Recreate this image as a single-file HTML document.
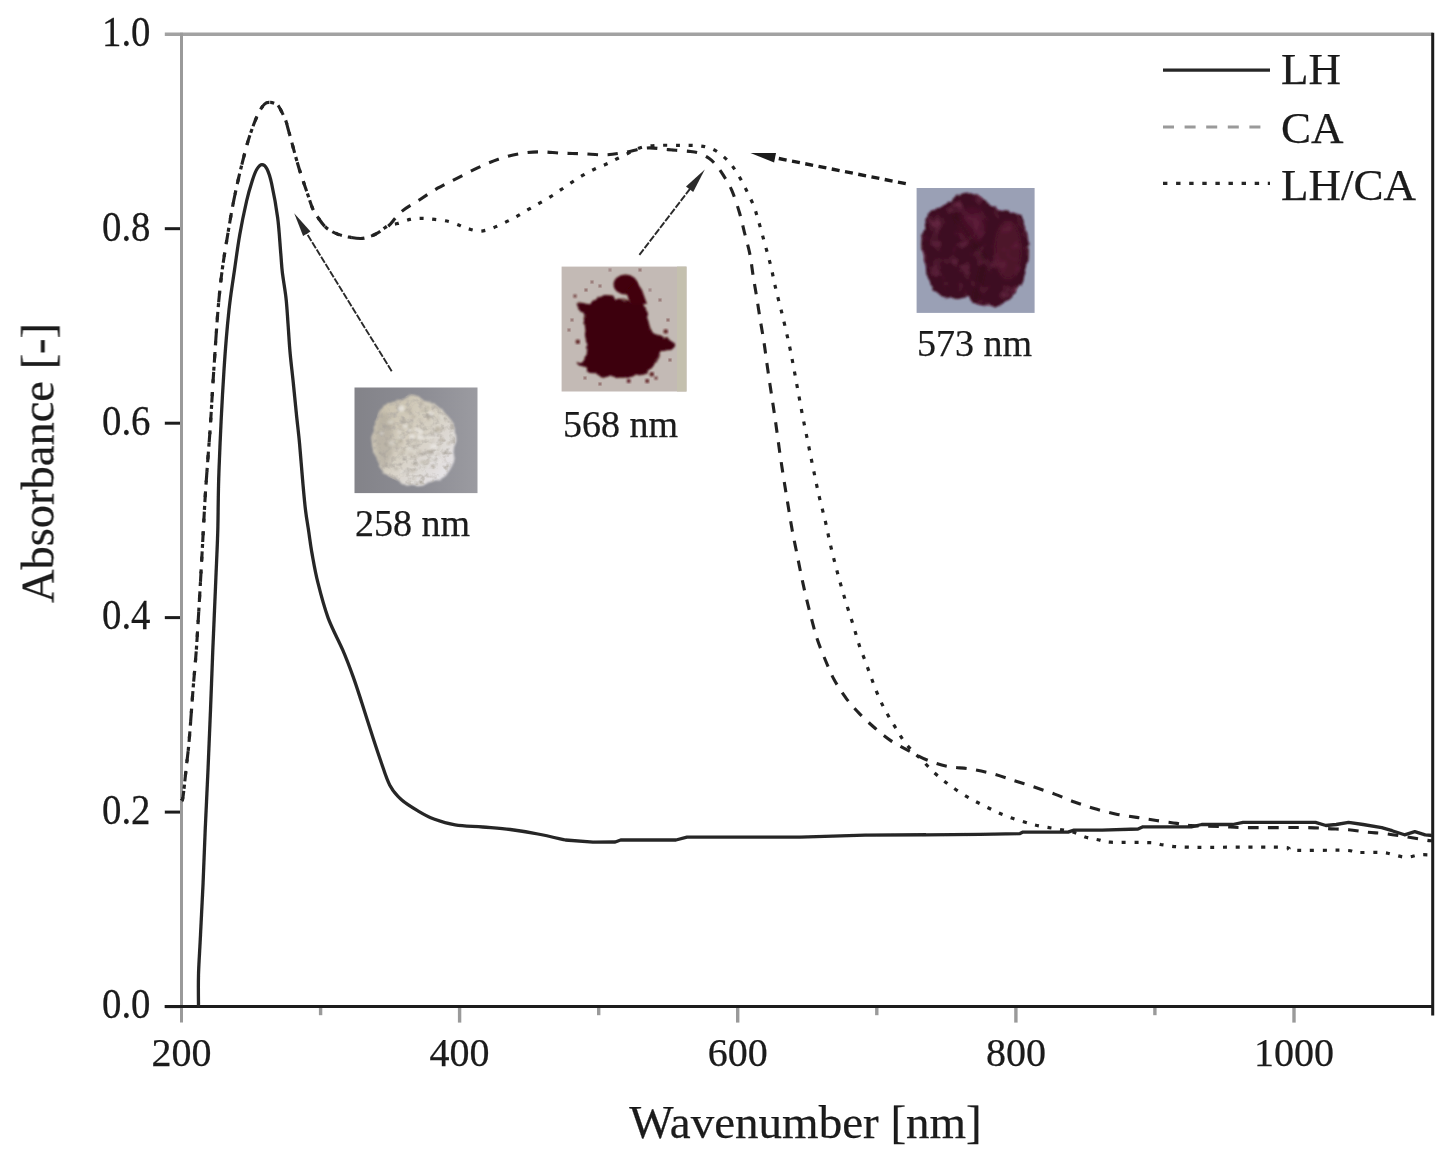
<!DOCTYPE html>
<html><head><meta charset="utf-8"><style>
html,body{margin:0;padding:0;background:#fff;}
svg{display:block;}
text{font-family:"Liberation Serif",serif;stroke:#1a1a1a;stroke-width:0.25px;}
</style></head><body>
<svg width="1450" height="1159" viewBox="0 0 1450 1159">
<defs><filter id="soft" x="0" y="0" width="100%" height="100%" filterUnits="userSpaceOnUse"><feGaussianBlur stdDeviation="0.75"/></filter></defs>
<rect width="1450" height="1159" fill="#fff"/>
<g filter="url(#soft)">
<g stroke="#1c1c1c" stroke-width="3" fill="none">
<line x1="164.8" y1="1006.6" x2="181.5" y2="1006.6"/>
<line x1="164.8" y1="812.1" x2="181.5" y2="812.1"/>
<line x1="164.8" y1="617.6" x2="181.5" y2="617.6"/>
<line x1="164.8" y1="423.2" x2="181.5" y2="423.2"/>
<line x1="164.8" y1="228.7" x2="181.5" y2="228.7"/>
</g>
<g stroke="#9a9a9a" stroke-width="3.4" fill="none">
<line x1="459.6" y1="1006.6" x2="459.6" y2="1022.6"/>
<line x1="737.7" y1="1006.6" x2="737.7" y2="1022.6"/>
<line x1="1015.9" y1="1006.6" x2="1015.9" y2="1022.6"/>
<line x1="1294.0" y1="1006.6" x2="1294.0" y2="1022.6"/>
<line x1="320.6" y1="1006.6" x2="320.6" y2="1015.2"/>
<line x1="598.7" y1="1006.6" x2="598.7" y2="1015.2"/>
<line x1="876.8" y1="1006.6" x2="876.8" y2="1015.2"/>
<line x1="1154.9" y1="1006.6" x2="1154.9" y2="1015.2"/>
</g>
<line x1="164.8" y1="34.2" x2="1433" y2="34.2" stroke="#a2a2a2" stroke-width="3.6"/>
<line x1="181.5" y1="32.7" x2="181.5" y2="1022.6" stroke="#9a9a9a" stroke-width="3"/>
<line x1="164.8" y1="1006.6" x2="1434" y2="1006.6" stroke="#1c1c1c" stroke-width="3"/>
<line x1="1432.7" y1="32.7" x2="1432.7" y2="1015.4" stroke="#1c1c1c" stroke-width="3"/>
<g font-family="Liberation Serif" font-size="40" fill="#1a1a1a">
<text transform="translate(150.5,1018.4) scale(0.97,1.05)" text-anchor="end">0.0</text>
<text transform="translate(150.5,823.9) scale(0.97,1.05)" text-anchor="end">0.2</text>
<text transform="translate(150.5,629.4) scale(0.97,1.05)" text-anchor="end">0.4</text>
<text transform="translate(150.5,435.0) scale(0.97,1.05)" text-anchor="end">0.6</text>
<text transform="translate(150.5,240.5) scale(0.97,1.05)" text-anchor="end">0.8</text>
<text transform="translate(150.5,46.0) scale(0.97,1.05)" text-anchor="end">1.0</text>
<text x="181.5" y="1065.5" text-anchor="middle">200</text>
<text x="459.6" y="1065.5" text-anchor="middle">400</text>
<text x="737.7" y="1065.5" text-anchor="middle">600</text>
<text x="1015.9" y="1065.5" text-anchor="middle">800</text>
<text x="1294.0" y="1065.5" text-anchor="middle">1000</text>
</g>
<text x="805.5" y="1137.6" text-anchor="middle" font-family="Liberation Serif" font-size="47" fill="#1a1a1a">Wavenumber [nm]</text>
<text transform="translate(53.5,463) rotate(-90)" text-anchor="middle" font-family="Liberation Serif" font-size="46.5" fill="#1a1a1a">Absorbance [-]</text>
<defs>
<filter id="bl" x="-20%" y="-20%" width="140%" height="140%"><feGaussianBlur stdDeviation="2.2"/></filter>
<filter id="bl2" x="-20%" y="-20%" width="140%" height="140%"><feGaussianBlur stdDeviation="1.2"/></filter>
<filter id="rough" x="-20%" y="-20%" width="140%" height="140%"><feTurbulence type="fractalNoise" baseFrequency="0.12" numOctaves="2" seed="3" result="n"/><feDisplacementMap in="SourceGraphic" in2="n" scale="7" xChannelSelector="R" yChannelSelector="G"/><feGaussianBlur stdDeviation="1.0"/></filter>
<filter id="rough2" x="-20%" y="-20%" width="140%" height="140%"><feTurbulence type="fractalNoise" baseFrequency="0.09" numOctaves="2" seed="7" result="n"/><feDisplacementMap in="SourceGraphic" in2="n" scale="6" xChannelSelector="R" yChannelSelector="G"/><feGaussianBlur stdDeviation="1.3"/></filter>
<linearGradient id="pw" x1="0.1" y1="0.1" x2="0.9" y2="0.9"><stop offset="0" stop-color="#c9c1ad"/><stop offset="0.5" stop-color="#d6d0c3"/><stop offset="1" stop-color="#e6e4e8"/></linearGradient>
<linearGradient id="g1" x1="0" y1="0" x2="0" y2="1"><stop offset="0" stop-color="#86858b"/><stop offset="1" stop-color="#8e8e96"/></linearGradient>
<linearGradient id="g2" x1="0" y1="0" x2="1" y2="1"><stop offset="0" stop-color="#bdb6b3"/><stop offset="1" stop-color="#c6bfba"/></linearGradient>
<linearGradient id="g3" x1="0" y1="0" x2="1" y2="1"><stop offset="0" stop-color="#9294a8"/><stop offset="1" stop-color="#a3a5b8"/></linearGradient>
</defs>
<linearGradient id="g1h" x1="0" y1="0" x2="1" y2="0"><stop offset="0" stop-color="#838389"/><stop offset="0.55" stop-color="#8d8d94"/><stop offset="1" stop-color="#9b9ba1"/></linearGradient>
<rect x="354.5" y="387.5" width="123" height="105.6" fill="url(#g1h)"/>
<path filter="url(#rough2)" fill="url(#pw)" d="M411.0,394.0 C413.3,393.9 415.5,395.8 418.0,397.0 C420.5,398.2 422.9,399.5 426.0,401.0 C429.1,402.5 431.9,402.5 436.3,405.8 C440.7,409.1 449.1,415.4 452.2,420.7 C455.3,426.0 454.9,431.7 455.2,437.6 C455.5,443.5 455.0,450.2 454.0,456.0 C453.0,461.8 452.5,468.0 449.2,472.3 C445.9,476.6 439.8,479.9 434.0,482.0 C428.2,484.1 421.0,485.5 414.5,485.2 C408.0,484.9 400.8,483.0 395.0,480.0 C389.2,477.0 383.3,472.3 379.8,467.3 C376.3,462.3 375.2,455.8 374.0,450.0 C372.8,444.2 371.8,439.1 372.8,432.6 C373.8,426.1 376.4,415.7 379.8,410.8 C383.2,405.9 389.0,405.2 393.0,403.0 C397.0,400.8 401.0,399.0 404.0,397.5 C407.0,396.0 408.7,394.1 411.0,394.0 Z"/>
<clipPath id="cp1"><path d="M411.0,394.0 C413.3,393.9 415.5,395.8 418.0,397.0 C420.5,398.2 422.9,399.5 426.0,401.0 C429.1,402.5 431.9,402.5 436.3,405.8 C440.7,409.1 449.1,415.4 452.2,420.7 C455.3,426.0 454.9,431.7 455.2,437.6 C455.5,443.5 455.0,450.2 454.0,456.0 C453.0,461.8 452.5,468.0 449.2,472.3 C445.9,476.6 439.8,479.9 434.0,482.0 C428.2,484.1 421.0,485.5 414.5,485.2 C408.0,484.9 400.8,483.0 395.0,480.0 C389.2,477.0 383.3,472.3 379.8,467.3 C376.3,462.3 375.2,455.8 374.0,450.0 C372.8,444.2 371.8,439.1 372.8,432.6 C373.8,426.1 376.4,415.7 379.8,410.8 C383.2,405.9 389.0,405.2 393.0,403.0 C397.0,400.8 401.0,399.0 404.0,397.5 C407.0,396.0 408.7,394.1 411.0,394.0 Z"/></clipPath>
<filter id="tex1" x="0" y="0" width="100%" height="100%"><feTurbulence type="fractalNoise" baseFrequency="0.16" numOctaves="3" seed="11"/><feColorMatrix type="matrix" values="0 0 0 0 0.46  0 0 0 0 0.43  0 0 0 0 0.39  2.4 0 0 0 -1.08"/><feGaussianBlur stdDeviation="0.6"/></filter>
<rect x="365" y="390" width="95" height="100" filter="url(#tex1)" clip-path="url(#cp1)"/>
<ellipse filter="url(#bl)" cx="384" cy="440" rx="9" ry="28" fill="#a29c92" opacity="0.45" clip-path="url(#cp1)"/>
<ellipse filter="url(#bl2)" cx="424.1" cy="462.3" rx="3.2" ry="2.2" fill="#a9a293" opacity="0.32"/>
<ellipse filter="url(#bl2)" cx="405.5" cy="472.9" rx="2.6" ry="1.9" fill="#9f998f" opacity="0.25"/>
<ellipse filter="url(#bl2)" cx="394.0" cy="423.5" rx="1.8" ry="2.2" fill="#9f998f" opacity="0.29"/>
<ellipse filter="url(#bl2)" cx="423.7" cy="410.6" rx="3.4" ry="1.2" fill="#a9a293" opacity="0.48"/>
<ellipse filter="url(#bl2)" cx="390.3" cy="426.3" rx="2.6" ry="2.1" fill="#b3ab9c" opacity="0.31"/>
<ellipse filter="url(#bl2)" cx="400.1" cy="430.3" rx="3.4" ry="1.5" fill="#b3ab9c" opacity="0.35"/>
<ellipse filter="url(#bl2)" cx="438.5" cy="449.2" rx="1.6" ry="1.7" fill="#bdb6a8" opacity="0.34"/>
<ellipse filter="url(#bl2)" cx="429.5" cy="415.5" rx="2.9" ry="1.3" fill="#9f998f" opacity="0.54"/>
<ellipse filter="url(#bl2)" cx="436.3" cy="430.8" rx="2.4" ry="2.1" fill="#a9a293" opacity="0.44"/>
<ellipse filter="url(#bl2)" cx="396.2" cy="468.8" rx="2.2" ry="1.7" fill="#9f998f" opacity="0.41"/>
<ellipse filter="url(#bl2)" cx="433.4" cy="467.0" rx="1.6" ry="2.4" fill="#bdb6a8" opacity="0.28"/>
<ellipse filter="url(#bl2)" cx="403.2" cy="451.3" rx="2.2" ry="2.4" fill="#b3ab9c" opacity="0.41"/>
<ellipse filter="url(#bl2)" cx="401.1" cy="426.6" rx="3.1" ry="2.0" fill="#b3ab9c" opacity="0.47"/>
<ellipse filter="url(#bl2)" cx="400.9" cy="440.6" rx="1.7" ry="2.0" fill="#a9a293" opacity="0.53"/>
<ellipse filter="url(#bl2)" cx="403.4" cy="421.0" rx="1.8" ry="2.5" fill="#9f998f" opacity="0.44"/>
<ellipse filter="url(#bl2)" cx="437.3" cy="428.1" rx="1.8" ry="2.2" fill="#b3ab9c" opacity="0.53"/>
<ellipse filter="url(#bl2)" cx="424.6" cy="466.2" rx="1.8" ry="1.7" fill="#a9a293" opacity="0.27"/>
<ellipse filter="url(#bl2)" cx="409.1" cy="411.9" rx="3.5" ry="1.8" fill="#b3ab9c" opacity="0.40"/>
<ellipse filter="url(#bl2)" cx="432.0" cy="440.2" rx="2.4" ry="2.4" fill="#bdb6a8" opacity="0.28"/>
<ellipse filter="url(#bl2)" cx="438.8" cy="444.7" rx="2.8" ry="1.8" fill="#b3ab9c" opacity="0.35"/>
<ellipse filter="url(#bl2)" cx="384.6" cy="422.9" rx="1.6" ry="2.2" fill="#bdb6a8" opacity="0.36"/>
<ellipse filter="url(#bl2)" cx="421.5" cy="402.9" rx="2.2" ry="2.1" fill="#bdb6a8" opacity="0.33"/>
<ellipse filter="url(#bl2)" cx="413.9" cy="464.7" rx="3.4" ry="1.6" fill="#bdb6a8" opacity="0.30"/>
<ellipse filter="url(#bl2)" cx="441.0" cy="439.8" rx="2.2" ry="1.6" fill="#bdb6a8" opacity="0.34"/>
<ellipse filter="url(#bl2)" cx="415.0" cy="456.6" rx="2.2" ry="2.0" fill="#bdb6a8" opacity="0.47"/>
<ellipse filter="url(#bl2)" cx="439.3" cy="429.4" rx="3.2" ry="2.1" fill="#b3ab9c" opacity="0.54"/>
<ellipse filter="url(#bl2)" cx="448.8" cy="443.5" rx="1.9" ry="1.7" fill="#b3ab9c" opacity="0.51"/>
<ellipse filter="url(#bl2)" cx="398.9" cy="406.6" rx="1.8" ry="2.2" fill="#9f998f" opacity="0.42"/>
<ellipse filter="url(#bl2)" cx="427.3" cy="435.3" rx="2.9" ry="1.2" fill="#bdb6a8" opacity="0.30"/>
<ellipse filter="url(#bl2)" cx="410.6" cy="454.6" rx="3.0" ry="1.4" fill="#b3ab9c" opacity="0.47"/>
<ellipse filter="url(#bl2)" cx="413.7" cy="446.1" rx="2.4" ry="1.7" fill="#9f998f" opacity="0.43"/>
<ellipse filter="url(#bl2)" cx="421.7" cy="420.0" rx="1.5" ry="1.7" fill="#bdb6a8" opacity="0.33"/>
<ellipse filter="url(#bl2)" cx="408.3" cy="409.7" rx="3.4" ry="1.9" fill="#bdb6a8" opacity="0.34"/>
<ellipse filter="url(#bl2)" cx="399.9" cy="443.1" rx="3.4" ry="2.3" fill="#bdb6a8" opacity="0.38"/>
<ellipse filter="url(#bl2)" cx="438.2" cy="454.0" rx="2.4" ry="1.4" fill="#bdb6a8" opacity="0.36"/>
<ellipse filter="url(#bl2)" cx="413.3" cy="416.7" rx="2.7" ry="1.7" fill="#b3ab9c" opacity="0.52"/>
<ellipse filter="url(#bl2)" cx="419.9" cy="451.7" rx="2.2" ry="2.3" fill="#b3ab9c" opacity="0.42"/>
<ellipse filter="url(#bl2)" cx="414.5" cy="440.3" rx="2.3" ry="2.3" fill="#9f998f" opacity="0.30"/>
<ellipse filter="url(#bl2)" cx="422.0" cy="462.2" rx="2.5" ry="1.7" fill="#bdb6a8" opacity="0.35"/>
<ellipse filter="url(#bl2)" cx="399.2" cy="440.1" rx="2.8" ry="2.4" fill="#a9a293" opacity="0.32"/>
<ellipse filter="url(#bl2)" cx="407.0" cy="440.3" rx="2.0" ry="1.8" fill="#bdb6a8" opacity="0.26"/>
<ellipse filter="url(#bl2)" cx="414.3" cy="470.9" rx="2.1" ry="2.0" fill="#bdb6a8" opacity="0.39"/>
<ellipse filter="url(#bl2)" cx="425.7" cy="450.7" rx="1.5" ry="1.4" fill="#a9a293" opacity="0.33"/>
<ellipse filter="url(#bl2)" cx="430.4" cy="451.5" rx="2.4" ry="1.7" fill="#a9a293" opacity="0.47"/>
<ellipse filter="url(#bl2)" cx="421.7" cy="403.1" rx="2.6" ry="2.1" fill="#bdb6a8" opacity="0.28"/>
<ellipse filter="url(#bl2)" cx="428.9" cy="416.1" rx="3.1" ry="1.8" fill="#9f998f" opacity="0.42"/>
<ellipse filter="url(#bl2)" cx="430.4" cy="453.1" rx="3.2" ry="2.3" fill="#9f998f" opacity="0.39"/>
<ellipse filter="url(#bl2)" cx="428.5" cy="460.4" rx="2.4" ry="2.2" fill="#bdb6a8" opacity="0.34"/>
<ellipse filter="url(#bl2)" cx="421.1" cy="454.5" rx="3.3" ry="1.4" fill="#9f998f" opacity="0.39"/>
<ellipse filter="url(#bl2)" cx="418.6" cy="441.8" rx="2.6" ry="1.8" fill="#bdb6a8" opacity="0.41"/>
<ellipse filter="url(#bl2)" cx="397.8" cy="407.2" rx="2.8" ry="1.2" fill="#a9a293" opacity="0.47"/>
<ellipse filter="url(#bl2)" cx="440.3" cy="418.4" rx="2.9" ry="1.4" fill="#a9a293" opacity="0.34"/>
<ellipse filter="url(#bl2)" cx="423.2" cy="434.8" rx="1.6" ry="1.5" fill="#b3ab9c" opacity="0.42"/>
<ellipse filter="url(#bl2)" cx="426.9" cy="462.6" rx="1.6" ry="1.9" fill="#bdb6a8" opacity="0.47"/>
<ellipse filter="url(#bl2)" cx="409.9" cy="426.4" rx="2.5" ry="2.4" fill="#9f998f" opacity="0.36"/>
<ellipse filter="url(#bl2)" cx="389.2" cy="453.0" rx="3.3" ry="1.9" fill="#bdb6a8" opacity="0.44"/>
<ellipse filter="url(#bl2)" cx="397.5" cy="446.3" rx="3.2" ry="1.6" fill="#bdb6a8" opacity="0.54"/>
<ellipse filter="url(#bl2)" cx="411.5" cy="432.7" rx="2.9" ry="2.1" fill="#b3ab9c" opacity="0.28"/>
<ellipse filter="url(#bl2)" cx="427.4" cy="407.7" rx="2.5" ry="1.8" fill="#a9a293" opacity="0.37"/>
<ellipse filter="url(#bl2)" cx="386.0" cy="444.6" rx="1.6" ry="1.4" fill="#9f998f" opacity="0.54"/>
<ellipse filter="url(#bl2)" cx="428.4" cy="418.7" rx="1.7" ry="2.4" fill="#a9a293" opacity="0.40"/>
<ellipse filter="url(#bl2)" cx="393.7" cy="458.9" rx="2.2" ry="1.5" fill="#9f998f" opacity="0.35"/>
<ellipse filter="url(#bl2)" cx="423.4" cy="429.3" rx="2.3" ry="2.1" fill="#9f998f" opacity="0.36"/>
<ellipse filter="url(#bl2)" cx="399.9" cy="453.0" rx="2.5" ry="2.0" fill="#bdb6a8" opacity="0.42"/>
<ellipse filter="url(#bl2)" cx="432.8" cy="433.2" rx="1.6" ry="1.4" fill="#a9a293" opacity="0.31"/>
<ellipse filter="url(#bl2)" cx="414.3" cy="478.7" rx="1.5" ry="1.8" fill="#bdb6a8" opacity="0.52"/>
<ellipse filter="url(#bl2)" cx="423.8" cy="436.0" rx="2.4" ry="1.4" fill="#9f998f" opacity="0.45"/>
<ellipse filter="url(#bl2)" cx="442.3" cy="439.5" rx="1.7" ry="2.3" fill="#bdb6a8" opacity="0.48"/>
<ellipse filter="url(#bl2)" cx="444.3" cy="428.9" rx="2.1" ry="1.3" fill="#bdb6a8" opacity="0.26"/>
<ellipse filter="url(#bl2)" cx="411.8" cy="471.3" rx="1.7" ry="2.1" fill="#b3ab9c" opacity="0.34"/>
<ellipse filter="url(#bl2)" cx="427.9" cy="461.3" rx="2.3" ry="1.8" fill="#f0eeea" opacity="0.31"/>
<ellipse filter="url(#bl2)" cx="405.0" cy="426.2" rx="2.9" ry="1.9" fill="#f0eeea" opacity="0.52"/>
<ellipse filter="url(#bl2)" cx="431.1" cy="413.7" rx="2.5" ry="2.5" fill="#f0eeea" opacity="0.58"/>
<ellipse filter="url(#bl2)" cx="425.8" cy="436.2" rx="4.0" ry="1.5" fill="#f0eeea" opacity="0.32"/>
<ellipse filter="url(#bl2)" cx="435.7" cy="434.5" rx="2.1" ry="2.3" fill="#f0eeea" opacity="0.60"/>
<ellipse filter="url(#bl2)" cx="416.4" cy="429.4" rx="2.2" ry="1.6" fill="#f0eeea" opacity="0.57"/>
<ellipse filter="url(#bl2)" cx="381.7" cy="433.4" rx="2.1" ry="1.9" fill="#f0eeea" opacity="0.42"/>
<ellipse filter="url(#bl2)" cx="391.3" cy="442.7" rx="2.8" ry="2.3" fill="#f0eeea" opacity="0.33"/>
<ellipse filter="url(#bl2)" cx="401.2" cy="409.1" rx="3.1" ry="2.9" fill="#f0eeea" opacity="0.48"/>
<ellipse filter="url(#bl2)" cx="441.4" cy="418.0" rx="2.0" ry="2.3" fill="#f0eeea" opacity="0.45"/>
<ellipse filter="url(#bl2)" cx="420.3" cy="431.6" rx="3.3" ry="2.6" fill="#f0eeea" opacity="0.57"/>
<ellipse filter="url(#bl2)" cx="400.8" cy="437.7" rx="3.7" ry="1.8" fill="#f0eeea" opacity="0.33"/>
<ellipse filter="url(#bl2)" cx="401.1" cy="407.4" rx="3.5" ry="2.7" fill="#f0eeea" opacity="0.39"/>
<ellipse filter="url(#bl2)" cx="409.7" cy="448.5" rx="2.5" ry="1.6" fill="#f0eeea" opacity="0.51"/>
<ellipse filter="url(#bl2)" cx="399.2" cy="431.4" rx="2.2" ry="2.1" fill="#f0eeea" opacity="0.39"/>
<ellipse filter="url(#bl2)" cx="433.7" cy="446.7" rx="3.8" ry="2.5" fill="#f0eeea" opacity="0.53"/>
<ellipse filter="url(#bl2)" cx="420.5" cy="437.1" rx="3.6" ry="2.5" fill="#f0eeea" opacity="0.59"/>
<ellipse filter="url(#bl2)" cx="431.9" cy="458.9" rx="2.5" ry="2.7" fill="#f0eeea" opacity="0.41"/>
<ellipse filter="url(#bl2)" cx="390.5" cy="422.1" rx="3.4" ry="1.9" fill="#f0eeea" opacity="0.32"/>
<ellipse filter="url(#bl2)" cx="434.5" cy="446.8" rx="2.1" ry="1.6" fill="#f0eeea" opacity="0.34"/>
<ellipse filter="url(#bl2)" cx="404.4" cy="472.2" rx="3.9" ry="2.4" fill="#f0eeea" opacity="0.37"/>
<ellipse filter="url(#bl2)" cx="409.7" cy="430.4" rx="2.7" ry="1.5" fill="#f0eeea" opacity="0.48"/>
<ellipse filter="url(#bl2)" cx="439.2" cy="461.1" rx="2.2" ry="2.3" fill="#f0eeea" opacity="0.35"/>
<ellipse filter="url(#bl2)" cx="430.5" cy="437.5" rx="3.9" ry="2.7" fill="#f0eeea" opacity="0.34"/>
<ellipse filter="url(#bl2)" cx="412.1" cy="436.5" rx="2.9" ry="2.7" fill="#f0eeea" opacity="0.58"/>
<rect x="561.6" y="266.6" width="124.9" height="124.9" fill="#c3bab5"/>
<rect x="677" y="266.6" width="9.5" height="124.9" fill="#c4c0ae"/>
<path filter="url(#rough)" fill="#3c0509" d="M603.2,296.7 C605.9,295.9 609.0,295.0 611.3,295.5 C613.6,296.0 613.8,298.8 617.1,299.5 C620.4,300.2 626.8,299.0 631.0,299.5 C635.2,300.0 640.1,300.6 642.6,302.5 C645.1,304.4 645.0,307.3 646.0,310.6 C647.0,313.9 647.1,318.6 648.3,322.1 C649.5,325.6 650.9,328.9 653.0,331.4 C655.1,333.9 658.0,335.7 661.1,337.2 C664.2,338.7 669.2,339.3 671.5,340.6 C673.8,341.9 675.5,343.6 674.9,345.2 C674.3,346.8 670.3,348.7 668.0,349.9 C665.7,351.1 663.0,350.3 661.1,352.2 C659.2,354.1 658.3,358.5 656.4,361.4 C654.5,364.3 652.2,367.2 649.5,369.5 C646.8,371.8 644.1,373.9 640.2,375.3 C636.4,376.7 630.6,377.2 626.4,377.6 C622.2,378.0 618.7,377.8 614.8,377.6 C610.9,377.4 607.1,377.3 603.2,376.5 C599.4,375.7 595.2,374.7 591.7,373.0 C588.2,371.3 584.7,367.8 582.4,366.1 C580.1,364.4 577.2,364.0 577.8,362.6 C578.4,361.2 584.3,361.3 585.9,358.0 C587.5,354.7 587.3,348.1 587.1,342.9 C586.9,337.7 585.3,331.7 584.7,326.7 C584.1,321.7 584.9,316.8 583.6,312.9 C582.3,309.0 576.1,305.0 576.7,303.6 C577.3,302.2 584.0,305.4 587.1,304.8 C590.2,304.2 592.5,301.6 595.2,300.2 C597.9,298.8 600.5,297.5 603.2,296.7 Z"/>
<ellipse filter="url(#bl2)" fill="#43060c" cx="625.5" cy="284.5" rx="12" ry="10"/>
<path filter="url(#bl2)" fill="#43060c" d="M626,291 L636,281 L642,290 L647,304 L630,304 Z"/>
<circle filter="url(#bl2)" cx="577.8" cy="341.8" r="2.2" fill="#5a1a1e"/>
<circle filter="url(#bl2)" cx="628.7" cy="381.0" r="2.0" fill="#5a1a1e"/>
<circle filter="url(#bl2)" cx="647.2" cy="381.0" r="2.0" fill="#5a1a1e"/>
<circle filter="url(#bl2)" cx="651.8" cy="374.2" r="2.2" fill="#5a1a1e"/>
<circle filter="url(#bl2)" cx="665.7" cy="331.4" r="2.2" fill="#5a1a1e"/>
<circle filter="url(#bl2)" cx="586.0" cy="290.0" r="1.3" fill="#5a1a1e"/>
<circle filter="url(#bl2)" cx="592.0" cy="282.0" r="1.2" fill="#5a1a1e"/>
<circle filter="url(#bl2)" cx="600.0" cy="286.0" r="1.2" fill="#5a1a1e"/>
<circle filter="url(#bl2)" cx="572.0" cy="320.0" r="1.2" fill="#5a1a1e"/>
<circle filter="url(#bl2)" cx="640.0" cy="270.0" r="1.2" fill="#5a1a1e"/>
<circle filter="url(#bl2)" cx="575.0" cy="296.0" r="1.5" fill="#5a1a1e"/>
<circle filter="url(#bl2)" cx="569.0" cy="330.0" r="1.2" fill="#5a1a1e"/>
<circle filter="url(#bl2)" cx="660.0" cy="300.0" r="1.2" fill="#5a1a1e"/>
<circle filter="url(#bl2)" cx="668.0" cy="320.0" r="1.3" fill="#5a1a1e"/>
<circle filter="url(#bl2)" cx="656.0" cy="378.0" r="1.5" fill="#5a1a1e"/>
<circle filter="url(#bl2)" cx="600.0" cy="384.0" r="1.3" fill="#5a1a1e"/>
<circle filter="url(#bl2)" cx="585.0" cy="378.0" r="1.2" fill="#5a1a1e"/>
<circle filter="url(#bl2)" cx="670.0" cy="360.0" r="1.3" fill="#5a1a1e"/>
<circle filter="url(#bl2)" cx="610.0" cy="270.0" r="1.1" fill="#5a1a1e"/>
<circle filter="url(#bl2)" cx="650.0" cy="290.0" r="1.1" fill="#5a1a1e"/>
<rect x="916.6" y="188" width="118" height="124.9" fill="#9aa0b5"/>
<path filter="url(#rough)" fill="#3e0e23" d="M958.3,195.6 C961.9,194.3 968.2,193.1 972.1,193.3 C976.0,193.5 978.3,194.8 981.4,196.7 C984.5,198.6 987.5,202.7 990.6,204.8 C993.7,206.9 996.0,208.2 999.9,209.4 C1003.8,210.6 1009.9,209.7 1013.8,211.8 C1017.6,213.9 1020.7,218.2 1023.0,222.2 C1025.3,226.2 1026.6,230.8 1027.6,236.0 C1028.6,241.2 1028.8,248.6 1028.8,253.4 C1028.8,258.2 1028.8,260.2 1027.6,265.0 C1026.4,269.8 1024.2,277.5 1021.9,282.3 C1019.6,287.1 1016.7,290.1 1013.8,293.8 C1010.9,297.5 1008.9,302.2 1004.5,304.3 C1000.1,306.4 992.4,306.8 987.2,306.6 C982.0,306.4 976.6,304.8 973.3,303.1 C970.0,301.4 970.4,297.0 967.5,296.2 C964.6,295.4 960.3,298.5 955.9,298.5 C951.5,298.5 944.9,297.9 940.9,296.2 C936.9,294.5 934.0,292.4 931.7,288.1 C929.4,283.9 928.7,277.4 927.0,270.7 C925.3,263.9 921.9,254.3 921.3,247.6 C920.7,240.9 922.1,236.1 923.6,230.3 C925.1,224.5 927.6,216.8 930.5,212.9 C933.4,209.0 937.6,209.0 940.9,207.1 C944.2,205.2 947.3,203.2 950.2,201.3 C953.1,199.4 954.6,196.9 958.3,195.6 Z"/>
<clipPath id="cp3"><path d="M958.3,195.6 C961.9,194.3 968.2,193.1 972.1,193.3 C976.0,193.5 978.3,194.8 981.4,196.7 C984.5,198.6 987.5,202.7 990.6,204.8 C993.7,206.9 996.0,208.2 999.9,209.4 C1003.8,210.6 1009.9,209.7 1013.8,211.8 C1017.6,213.9 1020.7,218.2 1023.0,222.2 C1025.3,226.2 1026.6,230.8 1027.6,236.0 C1028.6,241.2 1028.8,248.6 1028.8,253.4 C1028.8,258.2 1028.8,260.2 1027.6,265.0 C1026.4,269.8 1024.2,277.5 1021.9,282.3 C1019.6,287.1 1016.7,290.1 1013.8,293.8 C1010.9,297.5 1008.9,302.2 1004.5,304.3 C1000.1,306.4 992.4,306.8 987.2,306.6 C982.0,306.4 976.6,304.8 973.3,303.1 C970.0,301.4 970.4,297.0 967.5,296.2 C964.6,295.4 960.3,298.5 955.9,298.5 C951.5,298.5 944.9,297.9 940.9,296.2 C936.9,294.5 934.0,292.4 931.7,288.1 C929.4,283.9 928.7,277.4 927.0,270.7 C925.3,263.9 921.9,254.3 921.3,247.6 C920.7,240.9 922.1,236.1 923.6,230.3 C925.1,224.5 927.6,216.8 930.5,212.9 C933.4,209.0 937.6,209.0 940.9,207.1 C944.2,205.2 947.3,203.2 950.2,201.3 C953.1,199.4 954.6,196.9 958.3,195.6 Z"/></clipPath>
<filter id="tex3" x="0" y="0" width="100%" height="100%"><feTurbulence type="fractalNoise" baseFrequency="0.07" numOctaves="3" seed="4"/><feColorMatrix type="matrix" values="0 0 0 0 0.36  0 0 0 0 0.08  0 0 0 0 0.17  1.1 0 0 0 -0.55"/><feGaussianBlur stdDeviation="1"/></filter>
<rect x="915" y="188" width="120" height="125" filter="url(#tex3)" clip-path="url(#cp3)"/>
<ellipse filter="url(#bl)" cx="1008" cy="250" rx="14" ry="30" fill="#5e1a36" opacity="0.5"/>
<ellipse filter="url(#bl)" cx="972" cy="225" rx="14" ry="18" fill="#5a1834" opacity="0.45"/>
<path filter="url(#bl)" d="M955,215 L985,260 L975,300" stroke="#2e0818" stroke-width="4" fill="none" opacity="0.5"/>
<g font-family="Liberation Serif" font-size="38" fill="#1a1a1a">
<text x="355" y="536.2">258 nm</text>
<text x="563" y="437.3">568 nm</text>
<text x="917" y="356.4">573 nm</text>
</g>
<path d="M198.5,1006.6 C198.5,1001.3 198.2,986.9 198.5,975.0 C198.8,963.1 199.8,950.0 200.5,935.0 C201.2,920.0 202.2,902.5 203.0,885.0 C203.8,867.5 204.4,849.2 205.2,830.0 C206.0,810.8 207.1,790.0 208.0,770.0 C208.9,750.0 209.7,730.0 210.5,710.0 C211.3,690.0 211.9,671.7 212.8,650.0 C213.7,628.3 215.0,600.0 215.8,580.0 C216.6,560.0 217.3,548.3 217.8,530.0 C218.3,511.7 218.0,496.7 219.0,470.0 C220.0,443.3 222.3,396.7 224.0,370.0 C225.7,343.3 227.2,326.7 229.0,310.0 C230.8,293.3 232.7,282.5 234.5,270.0 C236.3,257.5 237.7,246.5 239.7,235.0 C241.7,223.5 244.5,210.2 246.6,201.0 C248.7,191.8 250.8,185.3 252.5,180.0 C254.2,174.7 255.4,171.6 257.0,169.0 C258.6,166.4 260.3,164.6 262.0,164.6 C263.7,164.6 265.4,165.8 267.0,169.0 C268.6,172.2 269.8,175.3 271.6,183.5 C273.4,191.7 276.2,206.5 277.7,218.0 C279.2,229.5 279.9,243.6 280.7,252.6 C281.5,261.6 281.4,264.4 282.3,272.0 C283.2,279.6 285.0,289.2 286.0,298.0 C287.0,306.8 287.4,315.7 288.1,325.0 C288.8,334.3 289.3,344.3 290.2,354.0 C291.1,363.7 292.3,373.0 293.3,383.0 C294.3,393.0 295.4,404.0 296.4,414.0 C297.4,424.0 298.5,432.0 299.5,443.0 C300.5,454.0 301.6,468.8 302.6,480.0 C303.6,491.2 304.5,501.7 305.5,510.0 C306.5,518.3 307.4,522.8 308.5,530.0 C309.6,537.2 310.4,544.6 312.0,553.4 C313.6,562.2 315.2,572.0 317.9,582.7 C320.6,593.5 324.0,606.6 328.1,617.9 C332.2,629.1 338.6,640.4 342.8,650.2 C347.0,660.0 349.9,667.8 353.1,676.6 C356.3,685.4 358.7,693.2 361.9,703.0 C365.1,712.8 369.0,725.5 372.2,735.3 C375.4,745.1 378.1,753.4 381.0,761.7 C383.9,770.0 386.4,778.9 389.8,785.2 C393.2,791.6 396.6,795.4 401.5,799.8 C406.4,804.2 413.7,808.4 419.1,811.6 C424.5,814.8 427.9,816.8 433.9,819.0 C439.9,821.2 447.0,823.5 455.2,824.8 C463.4,826.1 473.6,826.2 482.8,827.0 C492.0,827.8 501.1,828.3 510.3,829.5 C519.5,830.7 528.7,832.2 537.9,834.0 C547.1,835.8 560.9,839.0 565.5,840.0 L565.5,840.0 L593.1,842.2 L615.2,842.0 L620.7,840.0 L675.9,840.0 L687.0,837.2 L800.0,837.2 L865.0,835.2 L980.0,834.4 L1020.0,833.6 L1023.0,832.1 L1068.0,832.1 L1074.0,830.1 L1101.7,830.1 L1138.0,829.0 L1143.0,826.8 L1191.4,826.8 L1201.7,824.5 L1232.8,824.5 L1243.1,822.4 L1315.5,822.4 L1325.9,825.5 L1336.2,824.5 L1348.6,822.4 L1363.1,824.5 L1381.7,827.6 L1392.1,830.7 L1404.5,834.8 L1414.8,831.7 L1425.2,834.8 L1432.4,835.5" fill="none" stroke="#262626" stroke-width="3.3" stroke-linejoin="round"/>
<path d="M181.5,800.5 C181.8,799.9 182.2,802.4 183.0,797.0 C183.8,791.6 185.2,777.5 186.2,768.0 C187.2,758.5 188.1,753.0 189.2,740.0 C190.3,727.0 191.7,706.7 193.0,690.0 C194.3,673.3 195.6,661.7 197.0,640.0 C198.4,618.3 200.4,583.3 201.7,560.0 C203.0,536.7 204.0,516.7 205.0,500.0 C206.0,483.3 206.9,472.5 207.8,460.0 C208.7,447.5 209.4,440.0 210.4,425.0 C211.4,410.0 212.5,389.2 213.8,370.0 C215.1,350.8 216.6,326.7 218.0,310.0 C219.4,293.3 220.6,282.4 222.2,270.0 C223.8,257.6 225.7,246.8 227.6,235.3 C229.5,223.8 231.4,212.3 233.7,200.8 C236.0,189.3 238.8,176.8 241.4,166.3 C244.0,155.8 246.3,146.6 249.0,138.0 C251.7,129.4 255.2,120.2 257.8,114.5 C260.4,108.8 262.7,106.0 264.7,104.0 C266.7,102.0 268.2,102.5 269.9,102.4 C271.6,102.3 273.6,102.9 275.0,103.5 C276.4,104.1 276.8,103.3 278.5,106.0 C280.2,108.7 283.7,115.4 285.4,119.7 C287.1,124.0 286.7,124.0 288.9,131.8 C291.1,139.6 295.4,156.2 298.4,166.3 C301.4,176.4 304.6,185.0 307.0,192.2 C309.4,199.4 311.0,204.9 313.0,209.4 C315.0,213.9 317.0,216.1 319.0,219.0 C321.0,221.9 323.1,224.7 325.1,226.7 C327.1,228.7 328.8,229.7 331.0,231.0 C333.2,232.3 335.5,233.4 338.3,234.4 C341.1,235.4 344.2,236.2 347.9,236.9 C351.6,237.6 356.9,238.5 360.3,238.5 C363.8,238.5 365.8,237.8 368.6,236.9 C371.4,236.1 374.1,235.0 376.9,233.4 C379.7,231.8 383.1,228.9 385.2,227.5 C387.3,226.1 386.6,227.9 389.3,225.2 C392.1,222.5 396.6,215.7 401.7,211.4 C406.8,207.2 413.7,203.6 419.7,199.7 C425.7,195.8 431.4,191.8 437.6,188.2 C443.8,184.6 450.2,181.7 456.9,178.3 C463.6,174.9 470.7,171.1 477.6,167.9 C484.5,164.7 491.4,161.7 498.3,159.3 C505.2,157.0 512.1,155.1 519.0,153.8 C525.9,152.6 532.6,151.9 539.7,151.8 C546.8,151.7 554.5,152.9 561.7,153.2 C568.9,153.5 575.9,153.5 583.1,153.8 C590.4,154.1 598.3,155.0 605.2,154.8 C612.1,154.6 617.5,153.6 624.5,152.5 C631.5,151.4 639.8,148.5 647.0,148.0 C654.2,147.5 661.0,149.0 668.0,149.6 C675.0,150.2 684.0,150.8 689.3,151.4 C694.6,152.1 696.7,152.3 700.0,153.5 C703.3,154.7 706.6,156.6 709.3,158.5 C712.0,160.4 713.7,162.3 716.0,165.0 C718.3,167.7 720.5,170.7 723.1,174.9 C725.7,179.1 729.1,184.1 731.8,190.4 C734.5,196.7 737.4,205.6 739.5,212.8 C741.6,220.0 743.0,226.6 744.7,233.5 C746.4,240.4 748.5,247.0 749.9,254.2 C751.3,261.4 752.1,269.4 753.3,276.7 C754.4,283.9 755.6,290.5 756.8,297.7 C757.9,304.9 759.1,312.7 760.2,319.8 C761.4,326.9 762.6,333.5 763.7,340.4 C764.8,347.3 765.6,353.9 766.6,361.2 C767.6,368.5 768.8,376.7 769.9,384.1 C771.0,391.5 772.2,398.9 773.2,405.8 C774.2,412.7 775.1,418.7 776.1,425.7 C777.1,432.7 778.1,440.3 779.1,447.6 C780.1,454.9 781.2,462.3 782.3,469.4 C783.4,476.5 784.5,483.4 785.6,490.3 C786.7,497.2 787.9,504.3 789.0,511.1 C790.1,517.9 791.1,524.1 792.4,531.2 C793.7,538.3 795.4,546.1 796.9,553.6 C798.4,561.1 799.9,568.9 801.4,576.0 C802.9,583.1 804.2,589.1 805.9,596.2 C807.6,603.3 809.6,611.6 811.5,618.7 C813.4,625.8 814.9,632.1 817.1,638.8 C819.3,645.5 822.1,652.3 824.9,659.0 C827.7,665.7 830.3,672.7 833.9,679.2 C837.5,685.8 841.9,692.5 846.2,698.3 C850.5,704.1 854.8,708.9 859.7,713.9 C864.6,718.9 870.2,724.0 875.4,728.5 C880.6,733.0 885.5,737.2 891.1,740.9 C896.7,744.6 903.0,747.7 909.0,750.9 C915.0,754.1 920.6,757.4 927.0,760.0 C933.4,762.6 939.9,764.8 947.1,766.3 C954.3,767.8 962.4,767.8 970.0,769.0 C977.6,770.2 985.2,771.8 992.5,773.7 C999.8,775.6 1006.9,778.3 1013.7,780.5 C1020.5,782.7 1026.7,784.5 1033.5,786.8 C1040.3,789.1 1047.9,791.6 1054.7,794.1 C1061.5,796.6 1067.8,799.6 1074.4,802.0 C1081.0,804.4 1087.4,806.6 1094.2,808.6 C1101.0,810.6 1108.3,812.4 1115.4,813.9 C1122.5,815.4 1129.8,816.3 1136.6,817.4 C1143.4,818.5 1149.7,819.5 1156.4,820.5 C1163.1,821.5 1171.1,822.5 1176.9,823.4 C1182.7,824.2 1183.8,825.1 1191.4,825.6 C1199.0,826.1 1213.4,826.3 1222.4,826.6 C1231.4,826.9 1231.1,827.4 1245.2,827.6 C1259.3,827.8 1293.4,827.4 1307.2,827.6 C1321.0,827.8 1321.0,828.2 1327.9,828.6 C1334.8,829.0 1342.0,829.1 1348.6,829.7 C1355.1,830.3 1361.0,831.4 1367.2,832.1 C1373.4,832.8 1379.3,833.0 1385.9,833.8 C1392.5,834.6 1400.0,835.9 1406.6,836.9 C1413.1,837.9 1420.9,839.3 1425.2,840.0 C1429.5,840.7 1431.3,840.8 1432.5,841.0" fill="none" stroke="#222" stroke-width="3.1" stroke-dasharray="10.5 9.5"/>
<path d="M181.5,800.5 C181.8,799.9 182.2,802.4 183.0,797.0 C183.8,791.6 185.2,777.5 186.2,768.0 C187.2,758.5 188.1,753.0 189.2,740.0 C190.3,727.0 191.7,706.7 193.0,690.0 C194.3,673.3 195.6,661.7 197.0,640.0 C198.4,618.3 200.4,583.3 201.7,560.0 C203.0,536.7 204.0,516.7 205.0,500.0 C206.0,483.3 206.9,472.5 207.8,460.0 C208.7,447.5 209.4,440.0 210.4,425.0 C211.4,410.0 212.5,389.2 213.8,370.0 C215.1,350.8 216.6,326.7 218.0,310.0 C219.4,293.3 220.6,282.4 222.2,270.0 C223.8,257.6 225.7,246.8 227.6,235.3 C229.5,223.8 231.4,212.3 233.7,200.8 C236.0,189.3 238.8,176.8 241.4,166.3 C244.0,155.8 246.3,146.6 249.0,138.0 C251.7,129.4 255.2,120.2 257.8,114.5 C260.4,108.8 262.7,106.0 264.7,104.0 C266.7,102.0 268.2,102.5 269.9,102.4 C271.6,102.3 273.6,102.9 275.0,103.5 C276.4,104.1 276.8,103.3 278.5,106.0 C280.2,108.7 283.7,115.4 285.4,119.7 C287.1,124.0 286.7,124.0 288.9,131.8 C291.1,139.6 295.4,156.2 298.4,166.3 C301.4,176.4 304.6,185.0 307.0,192.2 C309.4,199.4 311.0,204.9 313.0,209.4 C315.0,213.9 317.0,216.1 319.0,219.0 C321.0,221.9 323.1,224.7 325.1,226.7 C327.1,228.7 328.8,229.7 331.0,231.0 C333.2,232.3 335.5,233.4 338.3,234.4 C341.1,235.4 344.2,236.2 347.9,236.9 C351.6,237.6 356.9,238.5 360.3,238.5 C363.8,238.5 365.8,237.8 368.6,236.9 C371.4,236.1 374.1,235.0 376.9,233.4 C379.7,231.8 383.1,228.9 385.2,227.5 C387.3,226.1 387.2,225.9 389.3,225.2 C391.4,224.5 394.2,224.5 397.6,223.5 C401.1,222.5 405.9,220.3 410.0,219.4 C414.1,218.5 418.3,218.3 422.4,218.3 C426.5,218.3 430.4,218.9 434.8,219.4 C439.2,219.9 444.5,220.5 448.6,221.5 C452.8,222.5 456.5,224.2 459.7,225.4 C462.9,226.6 464.5,227.7 467.9,228.6 C471.3,229.5 476.1,231.2 480.3,231.1 C484.5,231.0 488.7,229.3 492.8,227.9 C496.9,226.5 501.3,224.2 505.2,222.4 C509.1,220.6 512.4,218.9 516.2,216.8 C520.0,214.7 524.1,211.9 527.9,209.7 C531.7,207.5 535.2,205.6 539.0,203.4 C542.8,201.2 547.0,198.9 550.7,196.6 C554.4,194.3 557.4,192.1 561.0,189.7 C564.6,187.3 568.4,184.5 572.1,182.1 C575.8,179.7 579.3,177.4 583.1,175.2 C586.9,173.0 590.9,170.9 594.8,169.0 C598.7,167.1 602.8,165.8 606.6,164.0 C610.4,162.2 613.7,160.4 617.6,158.5 C621.5,156.6 626.1,154.2 630.0,152.4 C633.9,150.6 636.9,148.7 641.0,147.5 C645.1,146.3 648.3,145.9 654.8,145.5 C661.2,145.1 673.0,145.3 679.7,145.3 C686.4,145.3 690.6,145.2 695.0,145.5 C699.4,145.8 702.3,146.0 706.0,147.0 C709.7,148.0 713.4,149.2 717.1,151.6 C720.8,153.9 725.1,157.8 728.3,161.1 C731.5,164.4 733.6,167.7 736.1,171.4 C738.6,175.1 740.9,179.5 743.0,183.5 C745.1,187.5 747.1,191.7 749.0,195.6 C750.9,199.5 752.8,203.2 754.2,206.9 C755.6,210.6 756.5,214.1 757.6,218.0 C758.8,221.9 759.9,225.9 761.1,230.1 C762.3,234.3 763.4,238.7 764.6,243.0 C765.8,247.3 767.1,251.8 768.2,256.0 C769.3,260.2 770.3,263.8 771.3,268.0 C772.3,272.2 773.1,276.8 774.0,281.0 C774.9,285.2 775.8,288.9 776.8,293.1 C777.8,297.3 779.0,301.6 780.1,306.0 C781.2,310.4 782.0,313.3 783.5,319.8 C785.0,326.3 787.5,336.8 789.3,345.1 C791.1,353.4 792.5,361.4 794.1,369.8 C795.7,378.2 797.2,386.9 798.8,395.4 C800.4,403.9 801.9,412.5 803.6,421.0 C805.3,429.5 807.1,438.1 808.8,446.6 C810.5,455.1 812.2,463.6 814.0,472.2 C815.8,480.8 817.6,489.8 819.5,497.9 C821.4,506.0 823.5,513.5 825.3,521.0 C827.0,528.5 828.4,536.0 830.0,543.0 C831.6,550.0 833.2,556.5 834.9,563.0 C836.6,569.5 838.3,575.9 840.0,582.0 C841.7,588.1 843.6,594.6 845.1,599.6 C846.6,604.6 847.7,607.9 849.0,612.0 C850.3,616.1 851.7,620.2 853.0,624.3 C854.3,628.4 855.4,632.5 856.6,636.6 C857.9,640.7 859.0,644.8 860.5,648.9 C862.0,653.0 863.8,657.2 865.3,661.3 C866.8,665.4 868.3,669.5 869.8,673.6 C871.3,677.7 872.7,681.8 874.3,685.9 C875.9,690.0 877.6,694.4 879.4,698.3 C881.1,702.2 882.8,705.8 884.8,709.5 C886.8,713.2 888.9,717.0 891.1,720.6 C893.3,724.2 895.6,727.7 897.8,731.3 C900.0,734.9 901.9,738.5 904.5,742.0 C907.1,745.5 910.6,749.2 913.5,752.2 C916.4,755.2 918.9,756.9 922.0,760.0 C925.1,763.1 928.8,767.6 932.4,771.0 C936.0,774.4 940.1,777.7 943.4,780.4 C946.7,783.1 948.8,784.6 952.3,787.1 C955.8,789.6 960.6,792.9 964.4,795.2 C968.2,797.6 971.2,799.2 975.0,801.2 C978.8,803.2 983.3,805.3 987.2,807.3 C991.1,809.2 994.8,811.2 998.6,812.9 C1002.4,814.6 1005.7,815.9 1009.9,817.4 C1014.1,818.9 1019.4,820.5 1023.6,821.8 C1027.8,823.1 1031.1,824.1 1035.0,825.0 C1038.9,825.9 1042.9,826.5 1047.1,827.3 C1051.3,828.0 1055.7,828.7 1060.0,829.5 C1064.3,830.3 1068.6,830.7 1072.9,832.0 C1077.2,833.3 1081.6,835.9 1085.8,837.2 C1090.0,838.5 1093.8,838.9 1098.0,839.7 C1102.2,840.5 1102.1,841.7 1110.8,842.2 C1119.5,842.7 1141.4,842.2 1150.3,842.7 C1159.2,843.2 1157.5,844.2 1164.0,845.0 C1170.5,845.8 1169.9,846.8 1189.3,847.2 C1208.7,847.6 1263.0,846.7 1280.3,847.2 C1297.5,847.7 1282.1,849.8 1292.8,850.3 C1303.5,850.8 1333.8,849.9 1344.5,850.3 C1355.2,850.6 1350.7,852.0 1356.9,852.4 C1363.1,852.8 1375.5,852.0 1381.7,852.4 C1387.9,852.8 1389.9,854.1 1394.1,854.9 C1398.2,855.7 1402.4,857.3 1406.6,857.3 C1410.8,857.3 1414.9,855.3 1419.0,854.9 C1423.1,854.5 1429.3,854.9 1431.4,854.9" fill="none" stroke="#222" stroke-width="3.2" stroke-dasharray="4 8.7"/>
<line x1="391.7" y1="371.3" x2="305.8" y2="232.0" stroke="#2a2a2a" stroke-width="1.9" stroke-dasharray="7 1.5"/><path d="M294.2,213.3 L310.5,231.5 L303.1,236.0 Z" fill="#2a2a2a"/>
<line x1="639.4" y1="254.9" x2="690.8" y2="187.8" stroke="#2a2a2a" stroke-width="1.9" stroke-dasharray="7 1.5"/><path d="M704.8,169.5 L693.2,192.1 L686.0,186.6 Z" fill="#2a2a2a"/>
<line x1="905.8" y1="183.7" x2="773.1" y2="157.4" stroke="#1a1a1a" stroke-width="3.4" stroke-dasharray="8 5.5"/><path d="M750.5,152.9 L776.0,153.1 L774.1,162.5 Z" fill="#1a1a1a"/>
<line x1="1163" y1="70.2" x2="1270" y2="70.2" stroke="#262626" stroke-width="3.2"/>
<line x1="1163" y1="127" x2="1263" y2="127" stroke="#9a9a9a" stroke-width="3.2" stroke-dasharray="11 10.6"/>
<line x1="1163" y1="183.4" x2="1270" y2="183.4" stroke="#262626" stroke-width="3.2" stroke-dasharray="4.4 8.7"/>
<g font-family="Liberation Serif" font-size="45" fill="#1a1a1a">
<text x="1281" y="84">LH</text>
<text x="1281" y="142.6">CA</text>
<text x="1281" y="200.4">LH/CA</text>
</g>
</g>
</svg>
</body></html>
